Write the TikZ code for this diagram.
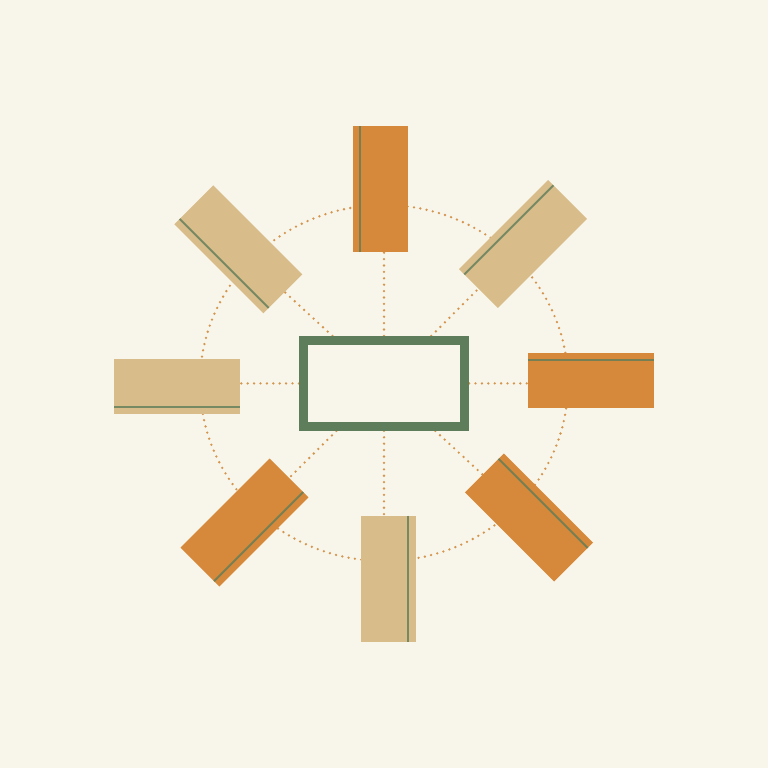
\documentclass[tikz,border=0pt]{standalone}
\usetikzlibrary{calc,backgrounds}
\definecolor{bg}{HTML}{F8F5EA}
\definecolor{grn}{HTML}{5E7D5A}
\definecolor{org}{HTML}{D6893A}
\definecolor{tanc}{HTML}{D8BC8A}
\definecolor{dotc}{HTML}{D4964F}
\begin{document}
\begin{tikzpicture}[x=1pt,y=-1pt,
  dotline/.style={dotc, line width=2.6pt, line cap=round, dash pattern=on 0pt off 6.4pt},
  box/.style={rectangle, inner sep=0pt, outer sep=0pt, minimum width=126pt, minimum height=55pt},
  obox/.style={box, fill=org},
  tbox/.style={box, fill=tanc},
  stripe/.style={grn, opacity=0.8, line width=2pt},
  hub/.style={rectangle, draw=grn, line width=8.7pt, fill=bg, minimum width=161.5pt, minimum height=86.3pt, inner sep=0pt}]
\useasboundingbox (0,0) rectangle (768,768);
\node[hub] (hub) at (384,383.4) {};
\node[obox, rotate=90]   (r1) at (380,189) {};
\node[tbox, rotate=45]   (r2) at (523,244) {};
\node[obox, rotate=0]    (r3) at (590.7,380) {};
\node[obox, rotate=-45]  (r4) at (529,517.5) {};
\node[tbox, rotate=-90]  (r5) at (388,578.5) {};
\node[obox, rotate=-135] (r6) at (244.5,522.5) {};
\node[tbox, rotate=180]  (r7) at (177,386.5) {};
\node[tbox, rotate=135]  (r8) at (238.3,249.3) {};
\foreach \n in {r1,r2,r3,r4,r5,r6,r7,r8}{
  \draw[stripe] ($(\n.north west)!7.5pt!(\n.south west)$) -- ($(\n.north east)!7.5pt!(\n.south east)$);
}
\begin{pgfonlayer}{background}
  \fill[bg] (0,0) rectangle (768,768);
  \draw[dotline] (384,383) ellipse [x radius=184, y radius=178];
  \foreach \n in {r2,r4,r6,r8}{
    \draw[dotline] (hub) -- (\n);
  }
  \draw[dotline] (hub) -- (hub |- r1);
  \draw[dotline] (hub) -- (hub |- r5);
  \draw[dotline] (hub) -- (hub -| r3);
  \draw[dotline] (hub) -- (hub -| r7);
\end{pgfonlayer}
\end{tikzpicture}
\end{document}
